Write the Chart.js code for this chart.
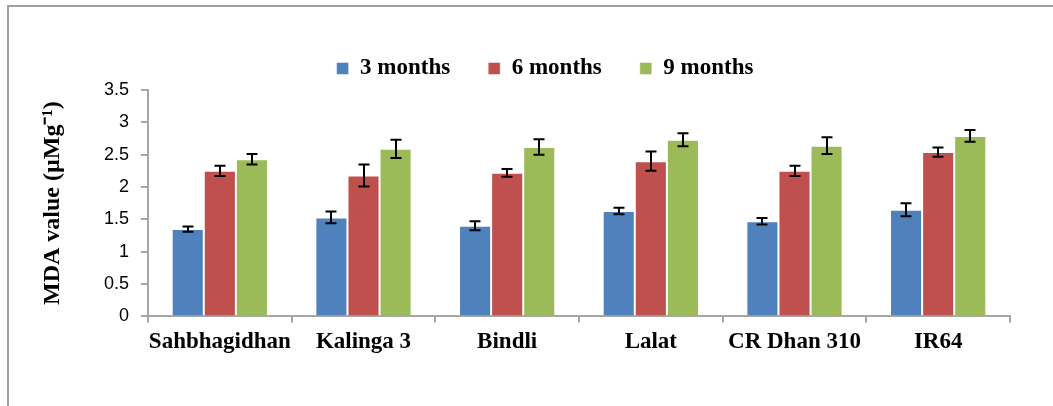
<!DOCTYPE html>
<html>
<head>
<meta charset="utf-8">
<script src="https://cdn.jsdelivr.net/npm/chart.js@4/dist/chart.umd.min.js"></script>
<style>
  html, body { margin: 0; padding: 0; background: #fff; }
  #wrap { position: relative; width: 1053px; height: 406px; }
</style>
</head>
<body>
<div id="wrap"><canvas id="mdaChart" width="1053" height="406"></canvas></div>
<script>
// varieties on the x axis
var varieties = ['Sahbhagidhan', 'Kalinga 3', 'Bindli', 'Lalat', 'CR Dhan 310', 'IR64'];

// MDA values
var months3 = [1.35, 1.53, 1.40, 1.63, 1.47, 1.65];
var months6 = [2.25, 2.18, 2.22, 2.40, 2.25, 2.54];
var months9 = [2.43, 2.59, 2.62, 2.73, 2.64, 2.79];

// error bar half-lengths
var err3 = [0.04, 0.09, 0.07, 0.05, 0.05, 0.10];
var err6 = [0.08, 0.17, 0.06, 0.15, 0.08, 0.07];
var err9 = [0.08, 0.14, 0.12, 0.10, 0.13, 0.09];

var yTicks = [0, 0.5, 1, 1.5, 2, 2.5, 3, 3.5];
var yTickLabels = ['0', '0.5', '1', '1.5', '2', '2.5', '3', '3.5'];

var serif = "'Liberation Serif', 'Times New Roman', serif";
var axisGray = '#a6a6a6';

// draws the error bars on top of each bar
var errorBars = {
    id: 'errorBars',
    afterDatasetsDraw: function (chart) {
        var ctx = chart.ctx;
        var yScale = chart.scales.y;
        ctx.save();
        ctx.strokeStyle = '#000';
        ctx.lineWidth = 2;
        chart.data.datasets.forEach(function (ds, i) {
            var meta = chart.getDatasetMeta(i);
            meta.data.forEach(function (bar, j) {
                var v = ds.data[j], e = ds.errors[j];
                var top = yScale.getPixelForValue(v + e);
                var bot = yScale.getPixelForValue(v - e);
                var x = Math.round(bar.x);
                ctx.beginPath();
                ctx.moveTo(x, top); ctx.lineTo(x, bot);
                ctx.moveTo(x - 5.5, top); ctx.lineTo(x + 5.5, top);
                ctx.moveTo(x - 5.5, bot); ctx.lineTo(x + 5.5, bot);
                ctx.stroke();
            });
        });
        ctx.restore();
    }
};

// frame of the chart box (left and top edges only are in view)
var frame = {
    id: 'frame',
    beforeDraw: function (chart) {
        var ctx = chart.ctx;
        ctx.save();
        ctx.strokeStyle = '#a0a0a0';
        ctx.lineWidth = 2;
        ctx.beginPath();
        ctx.moveTo(8, 406); ctx.lineTo(8, 6); ctx.lineTo(1053, 6);
        ctx.stroke();
        ctx.restore();
    }
};

// nudge the legend so it sits where the original one does
var legendShift = {
    id: 'legendShift',
    afterLayout: function (chart) {
        var lg = chart.legend;
        lg.left += 25; lg.right += 25;
    }
};

var ctx = document.getElementById('mdaChart').getContext('2d');
var chart = new Chart(ctx, {
    type: 'bar',
    data: {
        labels: varieties,
        datasets: [{
            label: '3 months',
            data: months3,
            errors: err3,
            backgroundColor: '#4F81BD',
            borderColor: 'rgba(255,255,255,0.45)',
            borderWidth: 1
        }, {
            label: '6 months',
            data: months6,
            errors: err6,
            backgroundColor: '#C0504D',
            borderColor: 'rgba(255,255,255,0.45)',
            borderWidth: 1
        }, {
            label: '9 months',
            data: months9,
            errors: err9,
            backgroundColor: '#9BBB59',
            borderColor: 'rgba(255,255,255,0.45)',
            borderWidth: 1
        }]
    },
    plugins: [frame, errorBars, legendShift],
    options: {
        responsive: false,
        animation: false,
        layout: { padding: { top: 19, left: 30, right: 43, bottom: 44 } },
        datasets: { bar: { categoryPercentage: 0.67, barPercentage: 1 } },
        plugins: {
            tooltip: { enabled: false },
            legend: {
                position: 'top',
                labels: {
                    boxWidth: 12,
                    boxHeight: 12,
                    padding: 38,
                    color: '#000',
                    font: { family: serif, size: 23, weight: 'bold' }
                }
            }
        },
        scales: {
            x: {
                grid: {
                    offset: true,
                    drawOnChartArea: false,
                    drawTicks: true,
                    tickLength: 6,
                    color: axisGray,
                    lineWidth: 2
                },
                border: { color: axisGray, width: 2 },
                ticks: {
                    color: '#000',
                    padding: 6,
                    autoSkip: false,
                    maxRotation: 0,
                    font: { family: serif, size: 23, weight: 'bold' }
                }
            },
            y: {
                min: 0,
                max: 3.5,
                afterBuildTicks: function (scale) {
                    scale.ticks = yTicks.map(function (v) { return { value: v }; });
                },
                afterFit: function (scale) { scale.width = 118; },
                grid: {
                    drawOnChartArea: false,
                    drawTicks: true,
                    tickLength: 7,
                    color: axisGray,
                    lineWidth: 2
                },
                border: { color: axisGray, width: 2 },
                ticks: {
                    color: '#000',
                    padding: 12,
                    font: { family: "'Liberation Sans', Arial, sans-serif", size: 18 },
                    callback: function (value, index) { return yTickLabels[index]; }
                },
                title: {
                    display: true,
                    text: 'MDA value (µMg⁻¹)',
                    color: '#000',
                    padding: { top: 8, bottom: 0 },
                    font: { family: serif, size: 24, weight: 'bold' }
                }
            }
        }
    }
});
</script>
</body>
</html>
